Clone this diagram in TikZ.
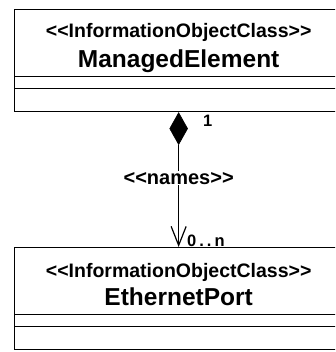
\documentclass[tikz,border=0pt]{standalone}
\usepackage{fontspec}
\setmainfont{Liberation Sans}
\usetikzlibrary{arrows.meta,shapes.geometric}
\newcommand\dlt{<\kern0pt<}
\newcommand\dgt{>\kern0pt>}
\begin{document}
\begin{tikzpicture}[x=1pt,y=1pt,
  classbox/.style={draw=black, line width=1.3pt, fill=white, minimum width=328pt, minimum height=102pt, inner sep=0pt, anchor=north west},
  divider/.style={draw=black, line width=1pt},
  stereo/.style={font=\bfseries\fontsize{19.5}{20}\selectfont, inner sep=0pt, anchor=base},
  cname/.style={font=\bfseries\fontsize{24.5}{26}\selectfont, inner sep=0pt, anchor=base},
  mult/.style={font=\bfseries\fontsize{16.5}{18}\selectfont, inner sep=0pt, anchor=base west},
  compdiamond/.style={shape=diamond, draw=black, fill=black, line width=0.6pt, minimum width=18pt, minimum height=32pt, aspect=0.5625, inner sep=0pt, anchor=north},
  assoc/.style={line width=1.2pt, -{Straight Barb[length=19pt,width=15pt,line width=1.2pt]}},
  rolelbl/.style={font=\bfseries\fontsize{20}{21}\selectfont, fill=white, inner sep=1pt}
]
\useasboundingbox (0,0) rectangle (335,-352);
\clip (0,0) rectangle (335,-352);
\fill[white] (0,0) rectangle (335,-352);

% ManagedElement class
\node[classbox] (me) at (14,-9) {};
\draw[divider] ([yshift=-68pt]me.north west) coordinate (me1) -- (me1 -| me.east);
\draw[divider] ([yshift=-80pt]me.north west) coordinate (me2) -- (me2 -| me.east);
\node[stereo] (mest) at ([yshift=-29pt]me.north) {\dlt InformationObjectClass\dgt};
\node[cname] (mename) at ([yshift=-59pt]me.north) {ManagedElement};

% EthernetPort class
\node[classbox] (ep) at (14,-247) {};
\draw[divider] ([yshift=-67pt]ep.north west) coordinate (ep1) -- (ep1 -| ep.east);
\draw[divider] ([yshift=-79pt]ep.north west) coordinate (ep2) -- (ep2 -| ep.east);
\node[stereo] (epst) at ([yshift=-30pt]ep.north) {\dlt InformationObjectClass\dgt};
\node[cname] (epname) at ([yshift=-58pt]ep.north) {EthernetPort};

% composition
\node[compdiamond] (dia) at (me.south) {};
\draw[assoc] (dia.south) -- (ep.north);
\node[rolelbl] (names) at ([yshift=-66pt]me.south) {\dlt names\dgt};
\node[mult] (m1) at (203,-127) {1};
\node[mult] (m2) at (187,-246) {0\kern3pt.\kern3pt.\kern3pt n};
\end{tikzpicture}
\end{document}
